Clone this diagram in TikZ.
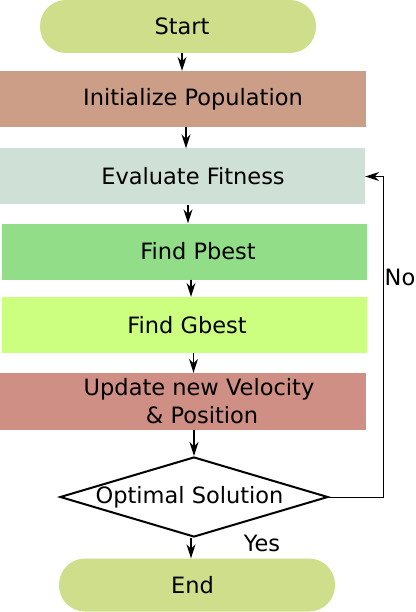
\documentclass[tikz,border=0pt]{standalone}
\usepackage{fontspec}
\setmainfont{DejaVu Sans}
\usepackage{tikz}
\usetikzlibrary{calc}
\usetikzlibrary{positioning, shapes.geometric}
\usetikzlibrary{arrows.meta}

\definecolor{termcol}{RGB}{207,222,138}
\definecolor{initcol}{RGB}{204,158,136}
\definecolor{evalcol}{RGB}{207,224,215}
\definecolor{pbestcol}{RGB}{146,222,136}
\definecolor{gbestcol}{RGB}{204,255,128}
\definecolor{updcol}{RGB}{207,143,132}

\begin{document}
\begin{tikzpicture}[
    x=1pt, y=-1pt,
    every node/.style={font=\fontsize{22.5}{28}\selectfont},
    term/.style={rectangle, rounded corners=26pt, draw=none, minimum width=276pt, minimum height=53pt, inner sep=0pt},
    stepbox/.style={rectangle, draw=none, minimum width=366pt, minimum height=56pt, inner sep=0pt, align=center},
    decision/.style={diamond, draw=black, line width=2pt, fill=white, minimum width=268pt, minimum height=80pt, aspect=3.35, inner sep=0pt},
    arrow/.style={-{Stealth[length=14pt, width=9pt, inset=4.5pt]}, line width=1.2pt, black},
]
    \useasboundingbox (0,0) rectangle (415,612);

    % --- Terminals ---
    \node[term, fill=termcol] (start) at (178, 26.5) {\hspace*{8pt}Start};
    \node[term, fill=termcol] (stop)  at (197, 585)  {\hspace*{-9pt}End};

    % --- Steps ---
    \node[stepbox, fill=initcol]  (init)  at (183, 99)    {\hspace*{20pt}Initialize Population};
    \node[stepbox, fill=evalcol, minimum width=365pt]  (eval)  at (182.5, 176.5) {\hspace*{21pt}Evaluate Fitness};
    \node[stepbox, fill=pbestcol, minimum width=365pt] (pbest) at (184.5, 251.5) {\hspace*{27pt}Find Pbest};
    \node[stepbox, fill=gbestcol, minimum width=365pt] (gbest) at (184.5, 325)   {\hspace*{5pt}Find Gbest};
    \node[stepbox, fill=updcol, minimum height=57pt]   (update) at (183, 401.5)  {\hspace*{32pt}Update new Velocity\\ \hspace*{38pt}\& Position};

    % --- Decision ---
    \node[decision] (optimal) at (194, 497) {\hspace*{-9pt}Optimal Solution};

    % --- Labels ---
    \node (yes) at (262, 543) {Yes};
    \node (no)  at (400, 277) {No};

    % --- Main flow ---
    \draw[arrow] ([xshift=4pt]start.south)    -- ([xshift=4pt]start.south |- init.north);
    \draw[arrow] ([xshift=3pt]init.south)     -- ([xshift=3pt]init.south |- eval.north);
    \draw[arrow] ([xshift=5.5pt]eval.south)   -- ([xshift=5.5pt]eval.south |- pbest.north);
    \draw[arrow] ([xshift=6.5pt]pbest.south)  -- ([xshift=6.5pt]pbest.south |- gbest.north);
    \draw[arrow] ([xshift=9pt]gbest.south)    -- ([xshift=9pt]gbest.south |- update.north);
    \draw[arrow] (optimal.north |- update.south) -- (optimal.north);
    \draw[arrow] ([xshift=-3pt]optimal.south) -- ([xshift=-3pt]optimal.south |- stop.north);

    % --- Loop back ---
    \draw[arrow, line width=1pt] (optimal.east) -- ++(54,0) |- (eval.east);

\end{tikzpicture}
\end{document}
